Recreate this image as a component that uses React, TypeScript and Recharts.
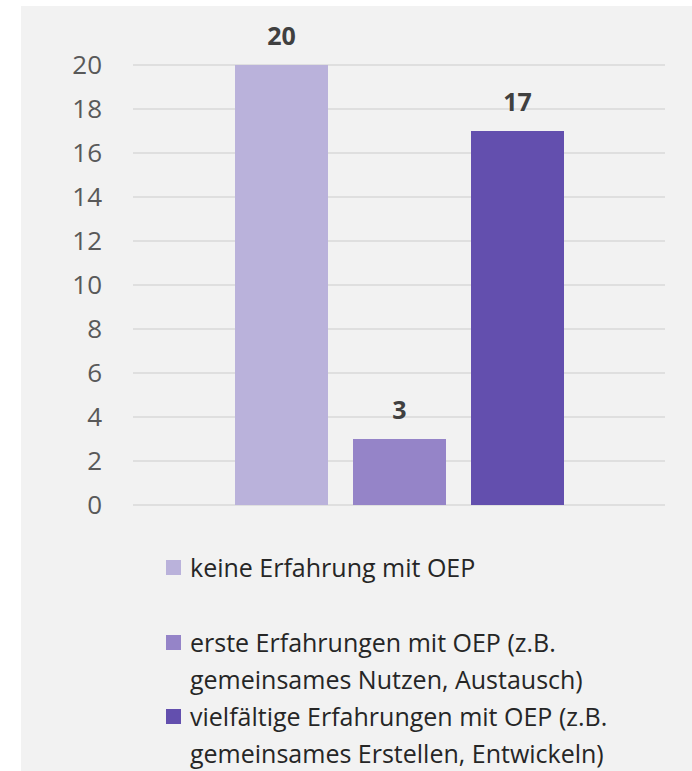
import { Bar, BarChart, CartesianGrid, LabelList, XAxis, YAxis } from 'recharts';

const seriesNames = ['keine', 'erste', 'vielfaeltig'];
const seriesValues = [20, 3, 17];
const seriesColors = ['#bab2db', '#9584c8', '#634fae'];
const legendLines = [
  ['keine Erfahrung mit OEP'],
  ['erste Erfahrungen mit OEP (z.B.', 'gemeinsames Nutzen, Austausch)'],
  ['vielfältige Erfahrungen mit OEP (z.B.', 'gemeinsames Erstellen, Entwickeln)'],
];
const yTicks = [0, 2, 4, 6, 8, 10, 12, 14, 16, 18, 20];

const row: Record<string, string | number> = { name: '' };
seriesNames.forEach((key, i) => {
  row[key] = seriesValues[i];
});
const data = [row];

const FONT = '"Open Sans", sans-serif';

// legend drawn as plain html below the plot so it doesn't eat chart height
function LegendBlock() {
  return (
    <div
      style={{
        position: 'absolute',
        left: 166,
        top: 549,
        fontFamily: FONT,
        fontSize: 25,
        color: '#262626',
        lineHeight: '37px',
      }}
    >
      {legendLines.map((lines, i) => (
        <div key={i} style={{ position: 'relative', height: 74.5, paddingLeft: 24 }}>
          <span
            style={{
              position: 'absolute',
              left: 0,
              top: 11,
              width: 15,
              height: 15,
              background: seriesColors[i],
            }}
          />
          {lines.map((line, j) => (
            <div key={j} style={{ whiteSpace: 'nowrap' }}>
              {line}
            </div>
          ))}
        </div>
      ))}
    </div>
  );
}

export default function App() {
  return (
    <div style={{ position: 'absolute', left: 0, top: 0, width: 692, height: 771, background: '#ffffff' }}>
      <div style={{ position: 'absolute', left: 21, top: 6, right: 0, bottom: 0, background: '#f2f2f2' }} />
      <div style={{ position: 'absolute', left: 0, top: 0 }}>
        <BarChart
          width={692}
          height={771}
          data={data}
          margin={{ top: 65, right: 27, left: 0, bottom: 266 }}
          barGap={25}
          barSize={93}
        >
          <CartesianGrid vertical={false} stroke="#d9d9d9" strokeWidth={1.5} />
          <XAxis dataKey="name" hide />
          <YAxis
            width={133}
            domain={[0, 20]}
            ticks={yTicks}
            axisLine={false}
            tickLine={false}
            tickSize={0}
            tickMargin={31}
            interval={0}
            tick={{ fill: '#595959', fontSize: 26, fontFamily: FONT }}
          />
          {seriesNames.map((key, i) => (
            <Bar key={key} dataKey={key} fill={seriesColors[i]} isAnimationActive={false}>
              <LabelList
                dataKey={key}
                position="top"
                offset={20}
                style={{ fill: '#404040', fontSize: 25, fontWeight: 700, fontFamily: FONT }}
              />
            </Bar>
          ))}
        </BarChart>
      </div>
      <LegendBlock />
    </div>
  );
}
